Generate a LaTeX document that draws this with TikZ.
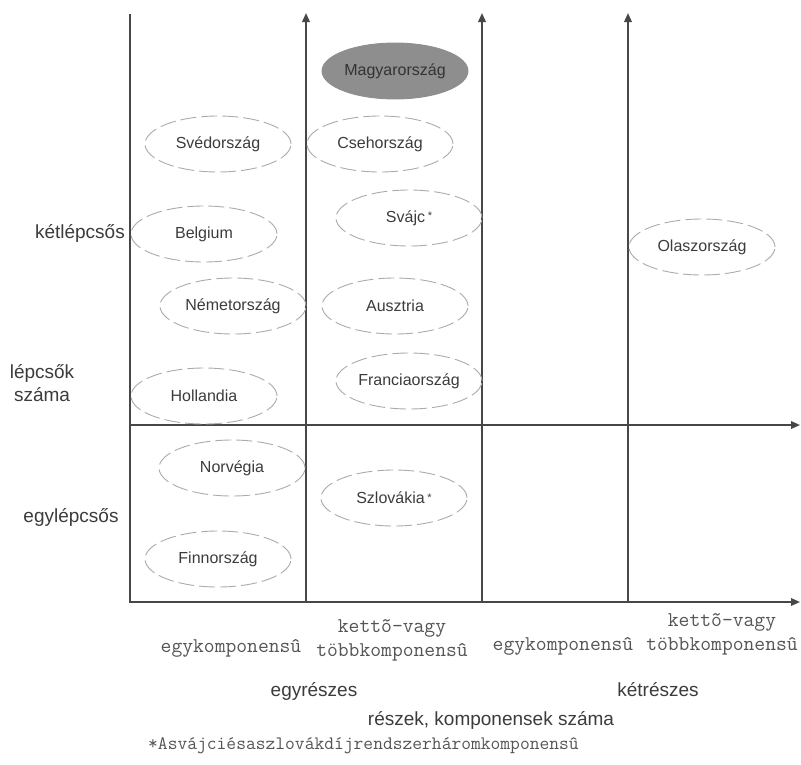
\documentclass[tikz,border=0pt]{standalone}
\usepackage{fontspec}
\setmainfont{Liberation Sans}
\usetikzlibrary{shapes.geometric,arrows.meta}
\definecolor{linec}{HTML}{474747}
\definecolor{txtc}{HTML}{3C3C3C}
\definecolor{monoc}{HTML}{555555}
\definecolor{ellc}{HTML}{ABABAB}
\definecolor{fillc}{HTML}{8E8E8E}
\newcommand{\astmark}{\,\raisebox{0.3ex}{\fontsize{11}{11}\selectfont *}}
\tikzset{
  axisline/.style={draw=linec, line width=1.8pt},
  axisarrow/.style={axisline, -{Triangle[length=9pt,width=7.5pt]}},
  country/.style={ellipse, draw=ellc, dash pattern=on 16pt off 5pt, line width=0.9pt,
    minimum width=146pt, minimum height=56pt, inner sep=0pt, text=txtc,
    font=\fontsize{16}{18}\selectfont},
  hungary/.style={country, solid, draw=fillc, fill=fillc, text=black!80},
  lab/.style={text=txtc, font=\fontsize{19}{23}\selectfont, inner sep=0pt, align=center},
  monolab/.style={text=monoc, font=\ttfamily\fontsize{21}{24}\selectfont, inner sep=0pt, anchor=base},
  foot/.style={text=monoc, font=\ttfamily\fontsize{19}{22}\selectfont, inner sep=0pt, anchor=base west}
}
\begin{document}
\begin{tikzpicture}[x=1pt,y=-1pt]
\useasboundingbox (0,0) rectangle (801,764);
\fill[white] (0,0) rectangle (801,764);

% axis coordinates
\coordinate (v0t) at (130,14);
\coordinate (v0b) at (130,602);
\coordinate (v1t) at (306,13);
\coordinate (v1b) at (306,602);
\coordinate (v2t) at (482,13);
\coordinate (v2b) at (482,602);
\coordinate (v3t) at (628,13);
\coordinate (v3b) at (628,602);
\coordinate (h1l) at (130,425);
\coordinate (h1r) at (800,425);
\coordinate (h2l) at (129,602);
\coordinate (h2r) at (800,602);

\draw[axisline] (v0t) -- (v0b);
\draw[axisarrow] (v1b) -- (v1t);
\draw[axisarrow] (v2b) -- (v2t);
\draw[axisarrow] (v3b) -- (v3t);
\draw[axisarrow] (h1l) -- (h1r);
\draw[axisarrow] (h2l) -- (h2r);

% countries
\node[hungary] (hu) at (395,71) {Magyarország};
\node[country] (se) at (218,144) {Svédország};
\node[country] (cz) at (380,144) {Csehország};
\node[country] (ch) at (409,218) {Svájc\astmark};
\node[country] (be) at (204,234) {Belgium};
\node[country] (de) at (233,306) {Németország};
\node[country] (at) at (395,306) {Ausztria};
\node[country] (fr) at (409,381) {Franciaország};
\node[country] (nl) at (204,396) {Hollandia};
\node[country] (no) at (232,468) {Norvégia};
\node[country] (sk) at (394,498) {Szlovákia\astmark};
\node[country] (fi) at (218,559) {Finnország};
\node[country] (it) at (702,247) {Olaszország};

% left labels
\node[lab, anchor=east] (ketl) at (125,233) {kétlépcsős};
\node[lab] (lepcs) at (42,383) {lépcsők\\száma};
\node[lab] (egyl) at (71,517) {egylépcsős};

% bottom mono labels
\node[monolab] (egyk1) at (231,652) {egykomponensû};
\node[monolab] (ketto1) at (392,632) {kettõ-vagy};
\node[monolab] (tobb1) at (392,656) {többkomponensû};
\node[monolab] (egyk2) at (563,650) {egykomponensû};
\node[monolab] (ketto2) at (722,626) {kettõ-vagy};
\node[monolab] (tobb2) at (722,650) {többkomponensû};

% bottom sans labels
\node[lab] (egyr) at (314,691) {egyrészes};
\node[lab] (ketr) at (658,690) {kétrészes};
\node[lab] (reszek) at (491,720) {részek, komponensek száma};

% footnote
\node[foot] (note) at (148,749) {*Asvájciésaszlovákdíjrendszerháromkomponensû};
\end{tikzpicture}
\end{document}
